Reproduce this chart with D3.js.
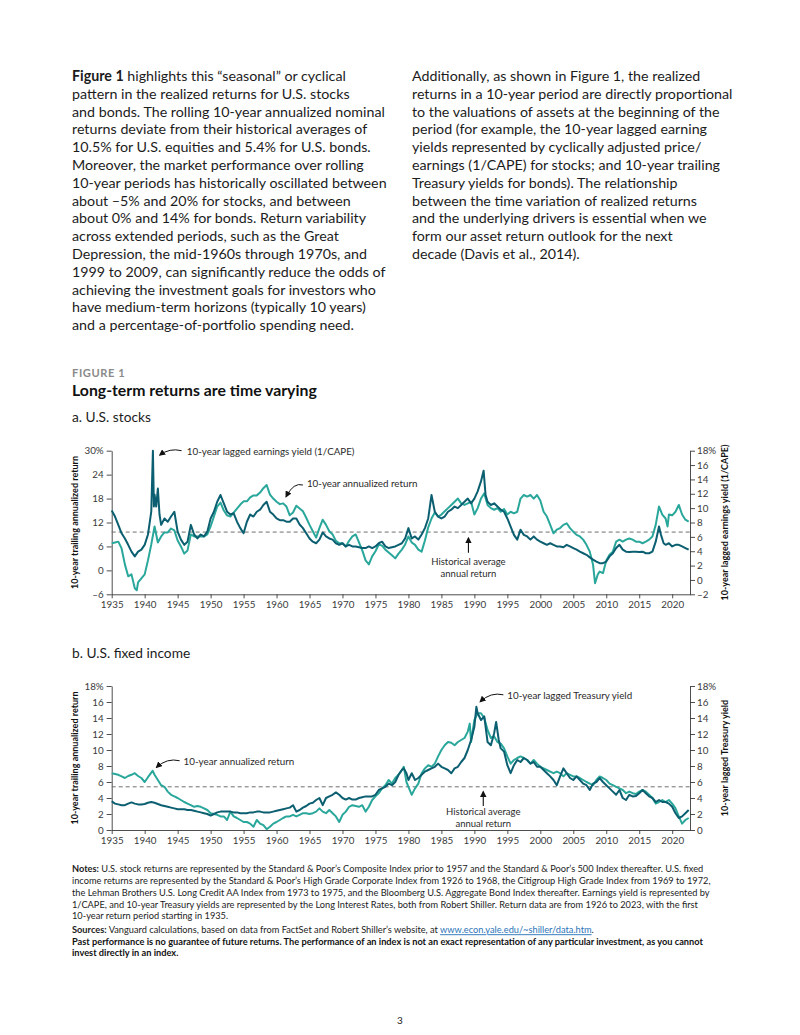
<!DOCTYPE html>
<html>
<head>
<meta charset="utf-8">
<script src="https://cdnjs.cloudflare.com/ajax/libs/d3/7.8.5/d3.min.js"></script>
<style>
  body { margin: 0; background: #fff; }
  svg { display: block; }
  text { font-family: Lato, "Open Sans", sans-serif; }
</style>
</head>
<body>
<script>
// ---- text ----
var leftColumn = [
  [["Figure 1", true], [" highlights this \u201cseasonal\u201d or cyclical", false]],
  "pattern in the realized returns for U.S. stocks",
  "and bonds. The rolling 10-year annualized nominal",
  "returns deviate from their historical averages of",
  "10.5% for U.S. equities and 5.4% for U.S. bonds.",
  "Moreover, the market performance over rolling",
  "10-year periods has historically oscillated between",
  "about \u20135% and 20% for stocks, and between",
  "about 0% and 14% for bonds. Return variability",
  "across extended periods, such as the Great",
  "Depression, the mid-1960s through 1970s, and",
  "1999 to 2009, can significantly reduce the odds of",
  "achieving the investment goals for investors who",
  "have medium-term horizons (typically 10 years)",
  "and a percentage-of-portfolio spending need."
];
var rightColumn = [
  "Additionally, as shown in Figure 1, the realized",
  "returns in a 10-year period are directly proportional",
  "to the valuations of assets at the beginning of the",
  "period (for example, the 10-year lagged earning",
  "yields represented by cyclically adjusted price/",
  "earnings (1/CAPE) for stocks; and 10-year trailing",
  "Treasury yields for bonds). The relationship",
  "between the time variation of realized returns",
  "and the underlying drivers is essential when we",
  "form our asset return outlook for the next",
  "decade (Davis et al., 2014)."
];
var notesLines = [
  [["Notes:", true], [" U.S. stock returns are represented by the Standard & Poor\u2019s Composite Index prior to 1957 and the Standard & Poor\u2019s 500 Index thereafter. U.S. fixed", false]],
  "income returns are represented by the Standard & Poor\u2019s High Grade Corporate Index from 1926 to 1968, the Citigroup High Grade Index from 1969 to 1972,",
  "the Lehman Brothers U.S. Long Credit AA Index from 1973 to 1975, and the Bloomberg U.S. Aggregate Bond Index thereafter. Earnings yield is represented by",
  "1/CAPE, and 10-year Treasury yields are represented by the Long Interest Rates, both from Robert Shiller. Return data are from 1926 to 2023, with the first",
  "10-year return period starting in 1935."
];
var sourcesLine = [["Sources:", true], [" Vanguard calculations, based on data from FactSet and Robert Shiller\u2019s website, at ", false], ["www.econ.yale.edu/~shiller/data.htm", false, "link"], [".", false]];
var disclaimerLines = [
  [["Past performance is no guarantee of future returns. The performance of an index is not an exact representation of any particular investment, as you cannot", true]],
  [["invest directly in an index.", true]]
];

// ---- chart data ----
var yearTicks = [1935, 1940, 1945, 1950, 1955, 1960, 1965, 1970, 1975, 1980, 1985, 1990, 1995, 2000, 2005, 2010, 2015, 2020];
var stockLeftTicks = [-6, 0, 6, 12, 18, 24, 30];
var stockRightTicks = [-2, 0, 2, 4, 6, 8, 10, 12, 14, 16, 18];
var bondTicks = [0, 2, 4, 6, 8, 10, 12, 14, 16, 18];
var stockAverage = 9.6;
var bondAverage = 5.4;

// U.S. stocks: 10-year annualized return (left axis, %)
var stockReturn = [[1935,6.8],[1935.5,7.0],[1936,7.2],[1936.5,5.5],[1937,1.5],[1937.5,-1.5],[1938,-1.0],[1938.5,-4.5],[1938.8,-5.0],[1939,-3.0],[1939.5,-2.0],[1940,-1.0],[1940.5,2.5],[1941,6.5],[1941.5,11.0],[1942,7.0],[1942.5,8.5],[1943,9.5],[1943.5,9.5],[1944,10.5],[1944.5,10.0],[1945,7.5],[1945.5,6.0],[1946,4.2],[1946.5,5.0],[1947,9.0],[1947.5,8.5],[1948,8.5],[1948.5,8.5],[1949,8.5],[1949.5,9.0],[1950,11.0],[1950.5,13.5],[1951,16.0],[1951.5,17.0],[1952,15.0],[1952.5,13.8],[1953,13.5],[1953.5,14.5],[1954,15.5],[1954.5,16.5],[1955,17.3],[1955.5,17.3],[1956,18.3],[1956.5,18.8],[1957,18.8],[1957.5,19.5],[1958,20.6],[1958.5,21.4],[1959,19.0],[1959.5,18.0],[1960,17.2],[1960.5,16.6],[1961,16.8],[1961.5,16.0],[1962,13.8],[1962.5,14.5],[1963,16.2],[1963.5,15.5],[1964,14.8],[1964.5,13.2],[1965,11.4],[1965.5,9.8],[1966,8.2],[1966.5,10.6],[1967,12.7],[1967.5,11.4],[1968,9.8],[1968.5,9.0],[1969,7.4],[1969.5,6.8],[1970,6.8],[1970.5,6.0],[1971,7.4],[1971.5,8.5],[1972,9.0],[1972.5,7.0],[1973,5.0],[1973.5,2.5],[1974,1.5],[1974.5,3.5],[1975,4.8],[1975.5,6.5],[1976,6.2],[1976.5,5.2],[1977,4.5],[1977.5,3.8],[1978,3.0],[1978.5,4.2],[1979,5.2],[1979.5,6.5],[1980,8.5],[1980.5,7.0],[1981,6.4],[1981.5,5.2],[1982,4.7],[1982.5,7.5],[1983,10.8],[1983.5,13.0],[1984,14.5],[1984.5,13.5],[1985,14.0],[1985.5,14.8],[1986,15.6],[1986.5,16.4],[1987,17.2],[1987.5,18.0],[1988,16.8],[1988.5,16.4],[1989,16.8],[1989.5,17.2],[1990,14.0],[1990.5,15.6],[1991,18.0],[1991.5,19.3],[1992,16.4],[1992.5,15.6],[1993,15.2],[1993.5,15.6],[1994,14.7],[1994.5,15.4],[1995,14.0],[1995.5,14.7],[1996,14.3],[1996.5,14.7],[1997,18.0],[1997.5,18.9],[1998,18.5],[1998.5,18.9],[1999,18.0],[1999.5,18.9],[2000,17.5],[2000.5,14.7],[2001,13.5],[2001.5,11.4],[2002,9.3],[2002.5,10.2],[2003,10.6],[2003.5,11.4],[2004,11.8],[2004.5,10.6],[2005,9.7],[2005.5,8.9],[2006,8.5],[2006.5,7.7],[2007,6.4],[2007.5,4.7],[2008,1.4],[2008.3,-3.2],[2008.7,-1.1],[2009,-0.3],[2009.5,-0.7],[2010,2.5],[2010.5,3.9],[2011,4.7],[2011.5,7.2],[2012,7.7],[2012.5,7.2],[2013,7.7],[2013.5,8.0],[2014,7.7],[2014.5,7.2],[2015,7.2],[2015.5,6.8],[2016,7.2],[2016.5,7.7],[2017,8.5],[2017.5,11.4],[2018,16.0],[2018.5,14.0],[2019,13.0],[2019.3,11.0],[2019.5,14.0],[2020,13.8],[2020.5,14.7],[2021,16.4],[2021.5,14.0],[2022,12.7],[2022.5,12.2]];

// U.S. stocks: 10-year lagged earnings yield, 1/CAPE (right axis, %)
var earningsYield = [[1935,9.67],[1935.5,8.83],[1936,7.67],[1936.5,6.5],[1937,5.78],[1937.5,4.89],[1938,3.94],[1938.5,3.28],[1939,3.94],[1939.5,4.22],[1940,4.89],[1940.5,6.33],[1941,9.5],[1941.25,18.0],[1941.4,10.22],[1941.5,11.89],[1941.75,10.22],[1942,12.72],[1942.25,9.11],[1942.5,7.67],[1943,8.56],[1943.5,8.11],[1944,8.83],[1944.5,9.5],[1945,6.72],[1945.5,5.61],[1946,4.89],[1946.5,5.33],[1947,7.67],[1947.5,6.33],[1948,5.78],[1948.5,6.33],[1949,6.06],[1949.5,6.72],[1950,8.56],[1950.5,9.5],[1951,10.89],[1951.5,11.83],[1952,10.67],[1952.5,9.5],[1953,9.11],[1953.5,9.28],[1954,8.11],[1954.5,7.22],[1955,6.5],[1955.5,8.11],[1956,9.11],[1956.5,8.83],[1957,9.5],[1957.5,9.78],[1958,10.44],[1958.5,10.89],[1959,9.5],[1959.5,9.11],[1960,8.56],[1960.5,8.33],[1961,8.33],[1961.5,8.11],[1962,8.11],[1962.5,8.56],[1963,8.56],[1963.5,7.72],[1964,7.22],[1964.5,6.5],[1965,5.78],[1965.5,5.33],[1966,5.11],[1966.5,5.61],[1967,6.61],[1967.5,6.06],[1968,5.78],[1968.5,5.61],[1969,5.11],[1969.5,4.89],[1970,5.11],[1970.5,4.67],[1971,4.89],[1971.5,4.67],[1972,4.67],[1972.5,4.56],[1973,4.44],[1973.5,4.44],[1974,4.67],[1974.5,4.44],[1975,4.67],[1975.5,5.11],[1976,5.33],[1976.5,4.67],[1977,4.44],[1977.5,4.56],[1978,4.67],[1978.5,4.89],[1979,5.11],[1979.5,5.78],[1980,7.22],[1980.5,5.78],[1981,6.06],[1981.5,5.61],[1982,6.33],[1982.5,7.22],[1983,8.56],[1983.5,11.83],[1984,9.5],[1984.5,8.83],[1985,8.56],[1985.5,8.83],[1986,9.5],[1986.5,9.78],[1987,10.22],[1987.5,10.0],[1988,10.44],[1988.5,10.89],[1989,11.33],[1989.5,10.67],[1990,11.33],[1990.5,12.33],[1991,13.72],[1991.4,15.22],[1991.7,11.83],[1992,10.89],[1992.5,10.44],[1993,10.67],[1993.5,10.22],[1994,9.78],[1994.5,9.5],[1995,8.56],[1995.5,7.44],[1996,6.28],[1996.5,5.61],[1997,7.0],[1997.5,6.28],[1998,6.06],[1998.5,5.61],[1999,6.06],[1999.5,5.61],[2000,5.33],[2000.5,5.11],[2001,4.89],[2001.5,5.11],[2002,4.89],[2002.5,4.67],[2003,4.67],[2003.5,4.56],[2004,4.89],[2004.5,4.67],[2005,4.44],[2005.5,4.22],[2006,3.94],[2006.5,3.72],[2007,3.5],[2007.5,3.14],[2008,2.83],[2008.5,2.56],[2009,2.33],[2009.5,2.33],[2010,2.56],[2010.5,3.28],[2011,3.72],[2011.5,4.44],[2012,4.89],[2012.5,4.22],[2013,3.94],[2013.5,3.89],[2014,3.94],[2014.5,3.94],[2015,3.89],[2015.5,3.94],[2016,3.72],[2016.5,3.72],[2017,3.94],[2017.5,5.33],[2018,7.44],[2018.3,6.28],[2018.7,5.11],[2019,4.89],[2019.5,5.11],[2020,4.67],[2020.5,4.89],[2021,4.89],[2021.5,4.67],[2022,4.44],[2022.5,4.22]];

// U.S. fixed income: 10-year annualized return (left axis, %)
var bondReturn = [[1935,7.1],[1935.5,7.0],[1936,6.9],[1936.5,6.7],[1937,6.5],[1937.5,6.75],[1938,6.9],[1938.5,7.1],[1939,6.75],[1939.5,6.5],[1940,6.0],[1940.5,6.6],[1941.2,7.4],[1941.5,6.9],[1942,6.25],[1942.5,5.6],[1943,5.4],[1943.5,4.8],[1944,4.4],[1944.5,4.2],[1945,4.0],[1945.5,3.75],[1946,3.5],[1946.5,3.3],[1947,3.1],[1947.5,2.9],[1948,3.0],[1948.5,2.9],[1949,2.7],[1949.5,2.5],[1950,2.1],[1950.5,2.0],[1951,1.9],[1951.5,1.7],[1952,1.7],[1952.5,1.25],[1953,2.3],[1953.5,1.7],[1954,1.5],[1954.5,1.25],[1955,1.0],[1955.5,1.0],[1956,0.8],[1956.5,0.4],[1957,1.25],[1957.5,0.8],[1958,0.6],[1958.5,0.1],[1959,0.4],[1959.5,0.8],[1960,1.0],[1960.5,1.25],[1961,1.5],[1961.5,1.7],[1962,1.7],[1962.5,1.9],[1963,1.7],[1963.5,1.9],[1964,2.1],[1964.5,2.1],[1965,2.0],[1965.5,2.1],[1966,2.3],[1966.5,2.7],[1967,2.3],[1967.5,2.1],[1968,2.5],[1968.5,2.1],[1969,1.7],[1969.5,1.0],[1970,1.9],[1970.5,2.3],[1971,2.9],[1971.5,3.1],[1972,3.0],[1972.5,2.9],[1973,3.1],[1973.5,2.3],[1974,2.9],[1974.5,3.75],[1975,4.2],[1975.5,4.6],[1976,5.2],[1976.5,5.6],[1977,6.25],[1977.5,5.8],[1978,6.5],[1978.5,6.9],[1979,7.5],[1979.3,7.9],[1979.7,6.0],[1980,5.4],[1980.5,4.4],[1981,5.2],[1981.5,5.8],[1982,7.1],[1982.5,7.7],[1983,8.1],[1983.5,7.9],[1984,8.3],[1984.5,9.2],[1985,10.0],[1985.5,10.6],[1986,11.0],[1986.5,10.9],[1987,10.6],[1987.5,11.0],[1988,11.25],[1988.5,11.5],[1989,12.3],[1989.3,13.3],[1989.5,11.0],[1990,13.75],[1990.5,14.6],[1991,14.6],[1991.5,14.0],[1992,12.5],[1992.5,11.5],[1993,11.7],[1993.5,11.0],[1994,10.8],[1994.5,10.2],[1995,9.2],[1995.5,8.3],[1996,8.75],[1996.5,9.0],[1997,9.2],[1997.5,9.0],[1998,8.75],[1998.5,8.3],[1999,8.75],[1999.5,8.3],[2000,7.9],[2000.5,7.7],[2001,7.5],[2001.5,7.3],[2002,7.1],[2002.5,7.3],[2003,7.1],[2003.5,6.7],[2004,7.1],[2004.5,6.9],[2005,6.7],[2005.5,6.7],[2006,6.5],[2006.5,6.25],[2007,6.0],[2007.5,5.8],[2008,5.6],[2008.5,6.25],[2009,6.7],[2009.5,6.5],[2010,6.25],[2010.5,5.8],[2011,5.6],[2011.5,5.4],[2012,5.2],[2012.5,5.0],[2013,4.6],[2013.5,4.8],[2014,4.6],[2014.5,4.5],[2015,4.8],[2015.5,5.0],[2016,4.8],[2016.5,4.4],[2017,4.0],[2017.5,3.3],[2018,3.5],[2018.5,3.75],[2019,3.5],[2019.5,3.75],[2020,3.3],[2020.5,2.7],[2021,1.7],[2021.5,0.8],[2022,1.25],[2022.5,1.5]];

// U.S. fixed income: 10-year lagged Treasury yield (right axis, %)
var treasuryYield = [[1935,3.6],[1935.5,3.3],[1936,3.2],[1936.5,3.1],[1937,3.1],[1937.5,3.3],[1938,3.45],[1938.5,3.3],[1939,3.2],[1939.5,3.2],[1940,3.25],[1940.5,3.4],[1941,3.5],[1941.5,3.4],[1942,3.25],[1942.5,3.1],[1943,3.0],[1943.5,2.9],[1944,2.8],[1944.5,2.7],[1945,2.6],[1945.5,2.6],[1946,2.6],[1946.5,2.5],[1947,2.5],[1947.5,2.4],[1948,2.3],[1948.5,2.2],[1949,2.1],[1949.5,2.0],[1950,1.8],[1950.5,2.0],[1951,2.2],[1951.5,2.3],[1952,2.3],[1952.5,2.3],[1953,2.3],[1953.5,2.2],[1954,2.2],[1954.5,2.1],[1955,2.1],[1955.5,2.1],[1956,2.2],[1956.5,2.2],[1957,2.3],[1957.5,2.3],[1958,2.2],[1958.5,2.2],[1959,2.2],[1959.5,2.3],[1960,2.4],[1960.5,2.5],[1961,2.6],[1961.5,2.7],[1962,2.8],[1962.5,3.1],[1963,2.3],[1963.5,2.5],[1964,2.8],[1964.5,3.0],[1965,3.3],[1965.5,3.4],[1966,3.75],[1966.5,4.0],[1967,3.1],[1967.5,4.0],[1968,4.2],[1968.5,4.4],[1969,4.7],[1969.5,4.4],[1970,4.0],[1970.5,3.8],[1971,4.0],[1971.5,3.8],[1972,3.8],[1972.5,4.0],[1973,4.1],[1973.5,4.2],[1974,4.2],[1974.5,4.2],[1975,4.4],[1975.5,5.0],[1976,5.2],[1976.5,5.4],[1977,5.8],[1977.5,5.6],[1978,6.0],[1978.5,6.9],[1979,7.5],[1979.3,7.7],[1979.7,7.1],[1980,6.25],[1980.5,7.1],[1981,6.25],[1981.5,6.5],[1982,6.9],[1982.5,7.3],[1983,7.5],[1983.5,7.7],[1984,7.9],[1984.5,8.3],[1985,7.9],[1985.5,7.7],[1986,7.5],[1986.5,7.1],[1987,7.7],[1987.5,7.9],[1988,8.5],[1988.5,9.0],[1989,10.0],[1989.5,11.25],[1990,12.9],[1990.3,15.4],[1990.5,14.6],[1991,13.75],[1991.5,14.2],[1992,11.0],[1992.5,10.6],[1993,12.1],[1993.3,13.5],[1993.7,11.25],[1994,10.2],[1994.5,9.8],[1995,8.1],[1995.5,7.1],[1996,8.1],[1996.5,8.75],[1997,8.5],[1997.5,9.0],[1998,8.75],[1998.5,8.3],[1999,8.5],[1999.5,7.9],[2000,7.9],[2000.5,7.5],[2001,7.1],[2001.5,6.7],[2002,6.25],[2002.5,5.6],[2003,6.7],[2003.5,7.7],[2004,7.1],[2004.5,6.5],[2005,6.25],[2005.5,6.7],[2006,6.25],[2006.5,5.8],[2007,5.6],[2007.5,5.0],[2008,5.8],[2008.5,6.0],[2009,6.5],[2009.5,6.0],[2010,5.6],[2010.5,5.2],[2011,4.8],[2011.5,4.4],[2012,5.0],[2012.5,4.0],[2013,3.75],[2013.5,4.4],[2014,4.2],[2014.5,4.25],[2015,4.6],[2015.5,5.0],[2016,4.6],[2016.5,4.2],[2017,4.0],[2017.5,3.5],[2018,3.75],[2018.5,3.5],[2019,3.5],[2019.5,3.3],[2020,2.9],[2020.5,2.1],[2021,1.5],[2021.5,1.7],[2022,2.1],[2022.5,2.5]];

var lightTeal = "#2aa79b";
var darkTeal = "#0b5f70";
var ink = "#1c1c1c";
var axisInk = "#3a3a3a";

var svg = d3.select("body").append("svg").attr("width", 800).attr("height", 1035);

svg.append("defs").append("marker")
  .attr("id", "head")
  .attr("viewBox", "0 0 10 10")
  .attr("refX", 8).attr("refY", 5)
  .attr("markerWidth", 6.5).attr("markerHeight", 6.5)
  .attr("markerUnits", "userSpaceOnUse")
  .attr("orient", "auto")
  .append("path").attr("d", "M0,0L10,5L0,10Z").attr("fill", "#111");

// one line of text, possibly with bold runs
function writeLine(g, x, y, parts, size, color) {
  var t = g.append("text").attr("x", x).attr("y", y).attr("dy", "0.35em")
    .attr("font-size", size).attr("fill", color);
  if (typeof parts === "string") parts = [[parts, false]];
  parts.forEach(function (p) {
    var s = t.append("tspan").text(p[0]).attr("font-weight", p[1] ? 700 : 400);
    if (p[2] == "link") s.attr("fill", "#2a74b8").attr("text-decoration", "underline");
  });
  return t;
}

// scale the font of a group of lines so one of them spans the given width
function fitBlock(lines, refIndex, width) {
  var base = +lines[refIndex].attr("font-size");
  var size = base * width / lines[refIndex].node().getComputedTextLength();
  lines.forEach(function (l) { l.attr("font-size", size); });
  return size;
}

var page = svg.append("g");

var leftText = leftColumn.map(function (l, i) { return writeLine(page, 72, 76 + i * 17.8, l, 13, ink); });
var bodySize = fitBlock(leftText, 2, 313);
var rightText = rightColumn.map(function (l, i) { return writeLine(page, 412, 76 + i * 17.8, l, bodySize, ink); });

var figLabel = writeLine(page, 72, 373.3, [["FIGURE 1", true]], 10, "#8a8a8a").attr("letter-spacing", 0.6);
fitBlock([figLabel], 0, 54);
var figTitle = writeLine(page, 72, 390, [["Long-term returns are time varying", true]], 15, "#111");
fitBlock([figTitle], 0, 245);
var partA = writeLine(page, 72, 417.3, "a.  U.S. stocks", 13, ink);
fitBlock([partA], 0, 79);
var partB = writeLine(page, 72, 653, "b.  U.S. fixed income", 13, ink);
partB.attr("font-size", partA.attr("font-size"));

var x = d3.scaleLinear().domain([1935, 2022.7]).range([111.7, 690]);
var line = function (y) {
  return d3.line().x(function (d) { return x(d[0]); }).y(function (d) { return y(d[1]); });
};

function styleAxis(g) {
  g.attr("font-family", null).attr("font-size", null);
  g.selectAll("path, line").attr("stroke", axisInk).attr("stroke-width", 0.9);
  g.selectAll("text").attr("font-size", 9.8).attr("fill", axisInk);
}

function signed(d) { return d < 0 ? "\u2013" + (-d) : "" + d; }

function drawChart(c) {
  var g = svg.append("g");
  var yL = d3.scaleLinear().domain(c.leftDomain).range([c.bottom, c.top]);
  var yR = d3.scaleLinear().domain(c.rightDomain).range([c.bottom, c.top]);
  var topL = c.leftDomain[1], topR = c.rightDomain[1];

  g.append("g").attr("transform", "translate(" + x.range()[0] + ",0)")
    .call(d3.axisLeft(yL).tickValues(c.leftTicks).tickSize(5).tickSizeOuter(0).tickPadding(3)
      .tickFormat(function (d) { return d == topL ? d + "%" : signed(d); }))
    .call(styleAxis);

  g.append("g").attr("transform", "translate(" + x.range()[1] + ",0)")
    .call(d3.axisRight(yR).tickValues(c.rightTicks).tickSize(5).tickSizeOuter(0).tickPadding(2)
      .tickFormat(function (d) { return d == topR ? d + "%" : signed(d); }))
    .call(styleAxis);

  g.append("g").attr("transform", "translate(0," + c.bottom + ")")
    .call(d3.axisBottom(x).tickValues(yearTicks).tickSize(4).tickSizeOuter(0).tickPadding(3)
      .tickFormat(d3.format("d")))
    .call(styleAxis);

  g.append("line")
    .attr("x1", x.range()[0]).attr("x2", x.range()[1])
    .attr("y1", yL(c.average)).attr("y2", yL(c.average))
    .attr("stroke", "#6f6f6f").attr("stroke-width", 1).attr("stroke-dasharray", "4,3");

  g.append("path").datum(c.lightSeries).attr("d", line(yL))
    .attr("fill", "none").attr("stroke", lightTeal).attr("stroke-width", 2).attr("stroke-linejoin", "round");
  g.append("path").datum(c.darkSeries).attr("d", line(yR))
    .attr("fill", "none").attr("stroke", darkTeal).attr("stroke-width", 2).attr("stroke-linejoin", "round");

  var mid = (c.top + c.bottom) / 2;
  g.append("text").attr("transform", "translate(75," + mid + ") rotate(-90)")
    .attr("text-anchor", "middle").attr("dy", "0.35em").attr("font-size", 9)
    .attr("font-weight", 700).attr("fill", "#111").text("10-year trailing annualized return");
  g.append("text").attr("transform", "translate(725," + mid + ") rotate(-90)")
    .attr("text-anchor", "middle").attr("dy", "0.35em").attr("font-size", 9)
    .attr("font-weight", 700).attr("fill", "#111").text(c.rightTitle);

  // annotations, placed in data units of the left axis
  c.notes.forEach(function (n) {
    writeLine(g, x(n.text[0]), yL(n.text[1]), n.label, 9.8, "#2a2a2a");
    var sx = x(n.from[0]), sy = yL(n.from[1]), tx = x(n.to[0]), ty = yL(n.to[1]);
    g.append("path")
      .attr("d", "M" + sx + "," + sy + "Q" + (tx + (sx - tx) * 0.45) + "," + (sy - 3) + " " + tx + "," + ty)
      .attr("fill", "none").attr("stroke", "#111").attr("stroke-width", 1)
      .attr("marker-end", "url(#head)");
  });
  var h = c.hist;
  g.append("text").attr("x", x(h.year)).attr("y", yL(h.line1)).attr("dy", "0.35em")
    .attr("text-anchor", "middle").attr("font-size", 9.5).attr("fill", "#2a2a2a").text("Historical average");
  g.append("text").attr("x", x(h.year)).attr("y", yL(h.line2)).attr("dy", "0.35em")
    .attr("text-anchor", "middle").attr("font-size", 9.5).attr("fill", "#2a2a2a").text("annual return");
  g.append("line").attr("x1", x(h.year)).attr("x2", x(h.year))
    .attr("y1", yL(h.from)).attr("y2", yL(h.to))
    .attr("stroke", "#111").attr("stroke-width", 1.1).attr("marker-end", "url(#head)");
}

drawChart({
  top: 450.7, bottom: 594.3,
  leftDomain: [-6, 30], rightDomain: [-2, 18],
  leftTicks: stockLeftTicks, rightTicks: stockRightTicks,
  average: stockAverage,
  lightSeries: stockReturn, darkSeries: earningsYield,
  rightTitle: "10-year lagged earnings yield (1/CAPE)",
  notes: [
    { label: "10-year lagged earnings yield (1/CAPE)", text: [1946.4, 29.75], from: [1945.6, 30.0], to: [1942.3, 28.9] },
    { label: "10-year annualized return", text: [1964.6, 21.7], from: [1964.0, 21.4], to: [1961.45, 18.5] }
  ],
  hist: { year: 1989.1, line1: 2.1, line2: -0.75, from: 4.4, to: 8.1 }
});

drawChart({
  top: 686, bottom: 830,
  leftDomain: [0, 18], rightDomain: [0, 18],
  leftTicks: bondTicks, rightTicks: bondTicks,
  average: bondAverage,
  lightSeries: bondReturn, darkSeries: treasuryYield,
  rightTitle: "10-year lagged Treasury yield",
  notes: [
    { label: "10-year lagged Treasury yield", text: [1995.0, 16.75], from: [1994.4, 16.9], to: [1990.9, 16.04] },
    { label: "10-year annualized return", text: [1945.9, 8.5], from: [1945.3, 8.66], to: [1941.8, 7.84] }
  ],
  hist: { year: 1991.35, line1: 2.25, line2: 0.85, from: 3.0, to: 4.79 }
});

// notes and sources
var notesText = notesLines.map(function (l, i) { return writeLine(page, 72, 869 + i * 11.8, l, 9.3, ink); });
var noteSize = fitBlock(notesText, 2, 638);
writeLine(page, 72, 930, sourcesLine, noteSize, ink);
disclaimerLines.forEach(function (l, i) { writeLine(page, 72, 941.5 + i * 11, l, noteSize, "#111"); });

page.append("text").attr("x", 400).attr("y", 1020).attr("dy", "0.35em").attr("text-anchor", "middle")
  .attr("font-size", 10).attr("fill", ink).text("3");
</script>
</body>
</html>
